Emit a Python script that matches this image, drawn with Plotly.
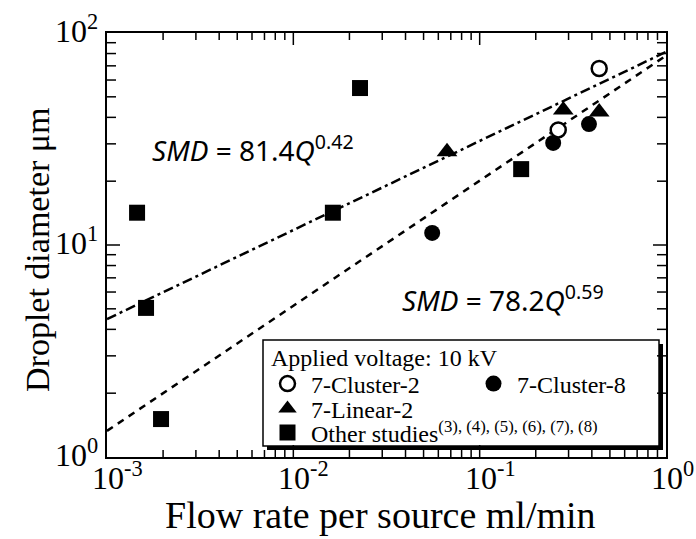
import math
import plotly.graph_objects as go

# ---- data ----
cluster2_q = [0.438, 0.264]
cluster2_d = [68.0, 34.9]

cluster8_q = [0.0556, 0.248, 0.386]
cluster8_d = [11.4, 30.3, 37.2]

linear2_q = [0.0668, 0.281, 0.438]
linear2_d = [27.5, 43.3, 42.4]

other_q = [0.00145, 0.00162, 0.00195, 0.0163, 0.0228, 0.167]
other_d = [14.2, 5.05, 1.51, 14.2, 55.0, 22.8]

# fitted power laws SMD = a * Q^b
fit_a = [81.4, 78.2]
fit_b = [0.42, 0.59]
fit_q = [0.001, 1.0]

x_tickvals = [1e-3, 1e-2, 1e-1, 1e0]
x_ticktext = ["10<sup>-3</sup>", "10<sup>-2</sup>", "10<sup>-1</sup>", "10<sup>0</sup>"]
y_tickvals = [1e0, 1e1, 1e2]
y_ticktext = ["10<sup>0</sup>", "10<sup>1</sup>", "10<sup>2</sup>"]
x_minor = [m * 10.0 ** e for e in (-3, -2, -1) for m in range(2, 10)]
y_minor = [m * 10.0 ** e for e in (0, 1) for m in range(2, 10)]

SERIF = "Liberation Serif"

fig = go.Figure()

# fit lines
fig.add_trace(go.Scatter(
    x=fit_q, y=[fit_a[0] * q ** fit_b[0] for q in fit_q], mode="lines",
    line=dict(color="black", width=2.5, dash="10px,4px,3px,4px"), showlegend=False))
fig.add_trace(go.Scatter(
    x=fit_q, y=[fit_a[1] * q ** fit_b[1] for q in fit_q], mode="lines",
    line=dict(color="black", width=2.5, dash="7px,6px"), showlegend=False))

fig.add_trace(go.Scatter(
    x=other_q, y=other_d, mode="markers", name="Other studies<sup>(3), (4), (5), (6), (7), (8)</sup>",
    marker=dict(symbol="square", size=16, color="black"), legend="legend3"))
fig.add_trace(go.Scatter(
    x=linear2_q, y=linear2_d, mode="markers", name="7-Linear-2",
    marker=dict(symbol="triangle-up", size=18, color="black"), legend="legend2"))
fig.add_trace(go.Scatter(
    x=cluster8_q, y=cluster8_d, mode="markers", name="7-Cluster-8",
    marker=dict(symbol="circle", size=16, color="black"), legend="legend4"))
fig.add_trace(go.Scatter(
    x=cluster2_q, y=cluster2_d, mode="markers", name="7-Cluster-2",
    marker=dict(symbol="circle", size=15, color="white", line=dict(color="black", width=2.5)),
    legend="legend"))

W, H = 696, 539
L, R, T, B = 107, 30, 33, 82
PW, PH = W - L - R, H - T - B


def px(xp):
    return (xp - L) / PW


def py(yp):
    return (H - B - yp) / PH


leg_font = dict(family=SERIF, size=24, color="black")
tick_font = dict(family=SERIF, size=32, color="black")


def leg(xp, yp):
    return dict(x=px(xp), y=py(yp), xanchor="left", yanchor="middle",
                bgcolor="rgba(0,0,0,0)", borderwidth=0, font=leg_font,
                itemwidth=37)


TICK_LINE = dict(color="black", width=1.5)


def xtick(v, length):
    out = []
    for anchor, sign in ((0, 1), (1, -1)):
        out.append(dict(type="line", xref="x", yref="paper", layer="above",
                        x0=v, x1=v,
                        ysizemode="pixel", yanchor=anchor, y0=0, y1=sign * length,
                        line=TICK_LINE))
    return out


def ytick(v, length):
    out = []
    for anchor, sign in ((0, 1), (1, -1)):
        out.append(dict(type="line", xref="paper", yref="y", layer="above",
                        y0=v, y1=v,
                        xsizemode="pixel", xanchor=anchor, x0=0, x1=sign * length,
                        line=TICK_LINE))
    return out


shapes = [
    dict(type="rect", xref="paper", yref="paper",
         x0=px(267), x1=px(663), y0=py(450), y1=py(344),
         fillcolor="black", line=dict(width=0), layer="above"),
    dict(type="rect", xref="paper", yref="paper",
         x0=px(263), x1=px(659), y0=py(446), y1=py(340),
         fillcolor="white", line=dict(color="black", width=1.5), layer="above"),
]
for v in x_tickvals[1:-1]:
    shapes += xtick(v, 12)
for v in x_minor:
    shapes += xtick(v, 7)
for v in y_tickvals[1:-1]:
    shapes += ytick(v, 13)
for v in y_minor:
    shapes += ytick(v, 9)

annotations = [
    dict(text="Applied voltage: 10 kV", xref="paper", yref="paper",
         x=px(269), y=py(358), xanchor="left", yanchor="middle", showarrow=False,
         font=leg_font),
    dict(text="<i>SMD</i> = 81.4<i>Q</i><sup>0.42</sup>", xref="paper", yref="paper",
         x=px(150), y=py(148), xanchor="left", yanchor="middle", showarrow=False,
         font=dict(family="Noto Sans", size=28, color="black")),
    dict(text="<i>SMD</i> = 78.2<i>Q</i><sup>0.59</sup>", xref="paper", yref="paper",
         x=px(400), y=py(298), xanchor="left", yanchor="middle", showarrow=False,
         font=dict(family="Noto Sans", size=28, color="black")),
    dict(text="Flow rate per source ml/min", xref="paper", yref="paper",
         x=px(380), y=py(515), xanchor="center", yanchor="middle", showarrow=False,
         font=dict(family=SERIF, size=38, color="black")),
    dict(text="Droplet diameter μm", xref="paper", yref="paper", textangle=-90,
         x=px(37), y=py(250), xanchor="center", yanchor="middle", showarrow=False,
         font=dict(family=SERIF, size=34, color="black")),
]
# tick labels placed through the axes' own scales ("10" centred on each tick)
for v, t in zip(x_tickvals, x_ticktext):
    annotations.append(dict(text=t, xref="x", yref="paper", x=math.log10(v), y=0,
                            xanchor="left", yanchor="middle", xshift=-17, yshift=-19,
                            showarrow=False, font=tick_font))
for v, t in zip(y_tickvals, y_ticktext):
    annotations.append(dict(text=t, xref="paper", yref="y", x=0, y=math.log10(v),
                            xanchor="right", yanchor="middle", xshift=-7, yshift=4,
                            showarrow=False, font=tick_font))

fig.update_layout(
    width=W, height=H,
    margin=dict(l=L, r=R, t=T, b=B),
    paper_bgcolor="white", plot_bgcolor="white",
    showlegend=True,
    legend=leg(264, 384),
    legend2=leg(264, 409),
    legend3=leg(264, 433),
    legend4=leg(470, 384),
    shapes=shapes,
    annotations=annotations,
)

fig.update_xaxes(type="log", range=[-3, 0], showgrid=False, zeroline=False,
                 showline=True, linecolor="black", linewidth=2, mirror=True,
                 ticks="", showticklabels=False)
fig.update_yaxes(type="log", range=[0, 2], showgrid=False, zeroline=False,
                 showline=True, linecolor="black", linewidth=2, mirror=True,
                 ticks="", showticklabels=False)

# the page body has a default 8px margin; remove it so the figure fills the window
fig.write_html("out.html", config={"displayModeBar": False},
               post_script="document.body.style.margin='0';")
